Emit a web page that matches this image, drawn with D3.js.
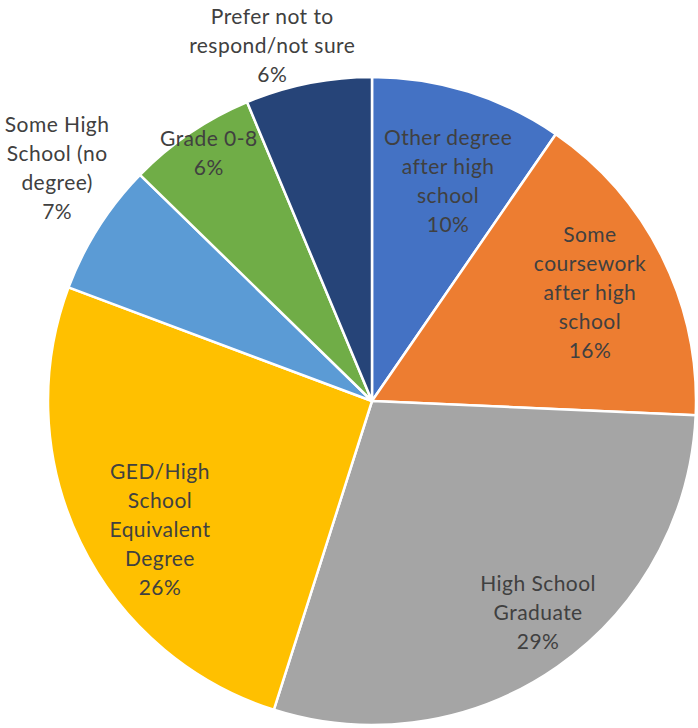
<!DOCTYPE html>
<html><head><meta charset="utf-8">
<script src="https://cdn.jsdelivr.net/npm/d3@7"></script>
<style>html,body{margin:0;padding:0;background:#fff;}</style>
</head><body>
<svg id="chart" width="698" height="728"></svg>
<script>
const categories = [
  "Other degree after high school",
  "Some coursework after high school",
  "High School Graduate",
  "GED/High School Equivalent Degree",
  "Some High School (no degree)",
  "Grade 0-8",
  "Prefer not to respond/not sure"
];
const values = [9.6, 16.1, 29.2, 25.8, 6.6, 6.4, 6.3];
const colors = ["#4472C4", "#ED7D31", "#A5A5A5", "#FFC000", "#5B9BD5", "#70AD47", "#264478"];

const labelLines = {
  "Other degree after high school": ["Other degree", "after high", "school"],
  "Some coursework after high school": ["Some", "coursework", "after high", "school"],
  "High School Graduate": ["High School", "Graduate"],
  "GED/High School Equivalent Degree": ["GED/High", "School", "Equivalent", "Degree"],
  "Some High School (no degree)": ["Some High", "School (no", "degree)"],
  "Grade 0-8": ["Grade 0-8"],
  "Prefer not to respond/not sure": ["Prefer not to", "respond/not sure"]
};
// label block centre: [fraction of radius, angle in degrees clockwise from 12 o'clock]
const labelPolar = {
  "Other degree after high school": [0.718, 19.1],
  "Some coursework after high school": [0.751, 63.6],
  "High School Graduate": [0.831, 141.9],
  "GED/High School Equivalent Degree": [0.766, 238.7],
  "Some High School (no degree)": [1.209, 306.5],
  "Grade 0-8": [0.915, 326.6],
  "Prefer not to respond/not sure": [1.138, 344.3]
};

const svg = d3.select("#chart");
const cx = 372, cy = 401, R = 324;
const g = svg.append("g").attr("transform", `translate(${cx},${cy})`);

const data = categories.map((c, i) => ({ cat: c, value: values[i], color: colors[i] }));
const total = d3.sum(values);
const pie = d3.pie().value(d => d.value).sort(null);
const arcs = pie(data);
const arc = d3.arc().innerRadius(0).outerRadius(R);

g.selectAll("path.slice").data(arcs).join("path")
  .attr("class", "slice")
  .attr("d", arc)
  .attr("fill", d => d.data.color)
  .attr("stroke", "#fff")
  .attr("stroke-width", 2.5)
  .attr("stroke-linejoin", "round");

const lh = 29;
arcs.forEach(a => {
  const [k, deg] = labelPolar[a.data.cat];
  const [x, y] = d3.pointRadial(deg * Math.PI / 180, R * k);
  const lines = labelLines[a.data.cat].concat([Math.round(a.data.value / total * 100) + "%"]);
  const y0 = y - (lines.length - 1) * lh / 2;
  const t = g.append("text")
    .attr("text-anchor", "middle")
    .attr("font-family", "Lato, 'Open Sans', sans-serif")
    .attr("font-size", 21)
    .attr("letter-spacing", 0.45)
    .attr("fill", "#404040");
  lines.forEach((ln, i) => {
    t.append("tspan").attr("x", x).attr("y", y0 + i * lh).attr("dy", "0.35em").text(ln);
  });
});
</script>
</body></html>
